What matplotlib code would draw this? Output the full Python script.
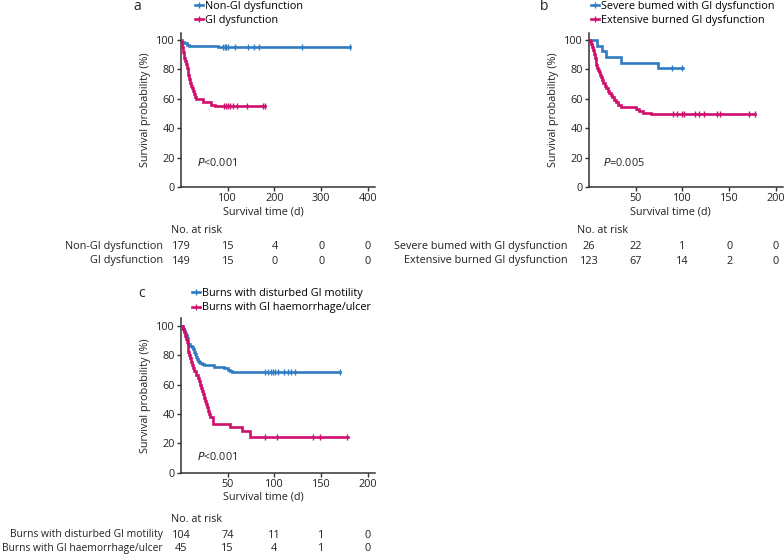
import matplotlib
matplotlib.use("Agg")
import matplotlib.pyplot as plt
from matplotlib.lines import Line2D
from matplotlib.transforms import blended_transform_factory

plt.rcParams["font.family"] = ["Open Sans", "DejaVu Sans"]
FS = 7.8
plt.rcParams["font.size"] = FS

BLUE = "#2f7cc3"
MAGENTA = "#cf0f6e"
INK = "#222222"

# ---- panel a: GI vs non-GI dysfunction ----
a_labels = ["Non-GI dysfunction", "GI dysfunction"]
a_blue_t = [0, 3, 7, 12, 18, 79]
a_blue_s = [100, 98.9, 97.7, 96.9, 95.9, 95.3]
a_blue_end = 362
a_blue_cens = [89, 94, 97, 100, 116, 144, 156, 167, 258, 362]
a_mag_t = [0, 1, 2, 3, 4, 5, 6, 7, 8, 10, 12, 14, 16, 18, 20, 22, 24, 26, 28, 30, 33, 48, 65, 72]
a_mag_s = [100, 98.5, 97, 95.5, 94, 92, 90, 88, 86, 83.5, 81, 78.5, 76, 73.5, 71, 69, 67, 65,
           63, 61.5, 59.8, 57.5, 56, 55.1]
a_mag_end = 179
a_mag_cens = [92, 96, 100, 105, 112, 120, 141, 176, 179]
a_risk_t = [0, 100, 200, 300, 400]
a_risk = [[179, 15, 4, 0, 0], [149, 15, 0, 0, 0]]
a_xticks = [100, 200, 300, 400]

# ---- panel b: severe vs extensive burns ----
b_labels = ["Severe bumed with GI dysfunction", "Extensive burned GI dysfunction"]
b_blue_t = [0, 8.5, 13.5, 18, 34.5, 73.5]
b_blue_s = [100, 96.15, 92.3, 88.46, 84.6, 80.77]
b_blue_end = 101
b_blue_cens = [89, 100]
b_mag_t = [0, 1, 2, 3, 4, 5, 6, 7, 8, 9, 10, 11, 12, 13, 14, 15.5, 17, 18.5, 20, 21.5, 23,
           25, 27, 29, 31, 34, 50, 53, 58, 66]
b_mag_s = [100, 99, 97.5, 95.5, 93, 90.5, 88, 85.5, 83, 81, 79.5, 78, 76.5, 74.5, 72.5, 70.5,
           69, 67, 65.5, 64, 62.5, 61, 59.5, 57.5, 56, 54.5, 53, 51.5, 50.5, 49.6]
b_mag_end = 178
b_mag_cens = [89.5, 94.5, 99.5, 101.5, 113, 118, 123, 137, 140, 171, 178]
b_risk_t = [0, 50, 100, 150, 200]
b_risk = [[26, 22, 1, 0, 0], [123, 67, 14, 2, 0]]
b_xticks = [50, 100, 150, 200]

# ---- panel c: motility vs haemorrhage/ulcer ----
c_labels = ["Burns with disturbed GI motility", "Burns with GI haemorrhage/ulcer"]
c_blue_t = [0, 1, 2, 3, 4, 5, 6, 7, 8, 10, 12, 13, 14, 15, 16, 17, 18, 19, 20, 22, 25, 30,
            35, 46, 50, 52, 55]
c_blue_s = [100, 99, 98, 96.5, 95, 93.5, 92, 90, 87.5, 86.5, 85.5, 84, 82, 80.5, 79, 77.5,
            76, 75, 74.5, 74, 73.5, 73, 72, 71, 70, 69, 68.5]
c_blue_end = 171
c_blue_cens = [90, 93, 96, 98.5, 101, 104, 110, 114.5, 118, 122.5, 170.5]
c_mag_t = [0, 2, 3, 4, 5, 6, 7, 7.5, 8, 9, 10, 10.5, 11.5, 12.5, 14, 16, 18, 19, 20, 21,
           22, 23.5, 25, 26, 27, 28, 29, 30, 31, 34, 52, 65, 74]
c_mag_s = [100, 97.8, 95.6, 93.3, 91.1, 88.9, 86.7, 84.4, 82.2, 80, 77.8, 75.6, 73.3, 71.1,
           68.9, 66.7, 64.4, 62.2, 60, 57.8, 55.6, 53.3, 51.1, 48.9, 46.7, 44.4, 42.2, 40,
           37.8, 33.3, 31, 28.7, 24.5]
c_mag_end = 179
c_mag_cens = [90, 102.5, 141.5, 149, 177.5]
c_risk_t = [0, 50, 100, 150, 200]
c_risk = [[104, 74, 11, 1, 0], [45, 15, 4, 1, 0]]
c_xticks = [50, 100, 150, 200]

W, H = 784, 556
fig = plt.figure(figsize=(W / 100, H / 100), dpi=100)


def px_axes(left, right, top, bottom):
    return fig.add_axes([left / W, 1 - bottom / H, (right - left) / W, (bottom - top) / H])


def km(ax, t, s, end, cens, color):
    tt = list(t) + [end]
    ss = list(s) + [s[-1]]
    ax.step(tt, ss, where="post", color=color, lw=1.9, solid_joinstyle="miter", zorder=3)
    # censor marks sit on the curve
    cs = []
    for c in cens:
        v = s[0]
        for ti, si in zip(t, s):
            if ti <= c:
                v = si
        cs.append(v)
    ax.plot(cens, cs, ls="none", marker="|", ms=4.5, mew=1.0, color=color, zorder=4)


def panel(box, letter, letter_xy, labels, curves, xmax, xticks, ptext, p_xy,
          xlab_x, leg_xy, risk_t, risk, risk_xy, row_fs=FS):
    left, right, top, bottom = box
    ax = px_axes(left, right, top, bottom)
    for (t, s, end, cens), col in zip(curves, [BLUE, MAGENTA]):
        km(ax, t, s, end, cens, col)
    ax.set_xlim(0, xmax)
    ax.set_ylim(0, 105)
    ax.set_yticks([0, 20, 40, 60, 80, 100])
    ax.set_xticks(xticks)
    for sp in ["top", "right"]:
        ax.spines[sp].set_visible(False)
    for sp in ["left", "bottom"]:
        ax.spines[sp].set_color("#333333")
        ax.spines[sp].set_linewidth(1.1)
    ax.tick_params(direction="out", length=3, width=1.0, color="#333333",
                   labelcolor=INK, labelsize=FS, pad=1.5)
    ax.set_ylabel("Survival probability (%)", color=INK, fontsize=FS, labelpad=4)
    ax.set_xlabel("Survival time (d)", color=INK, fontsize=FS, labelpad=0)
    ax.xaxis.set_label_coords((xlab_x - left) / (right - left), -(206 - 187) / (bottom - top))
    fig.text(letter_xy[0] / W, 1 - letter_xy[1] / H, letter, fontsize=10, color=INK,
             ha="left", va="center")
    fig.text(p_xy[0] / W, 1 - p_xy[1] / H, ptext, fontsize=FS, color=INK,
             ha="left", va="center")

    handles = [Line2D([], [], color=c, lw=1.9, marker="|", ms=4, mew=1.0) for c in [BLUE, MAGENTA]]
    ax.legend(handles, labels, loc="upper left", frameon=False, fontsize=FS,
              bbox_to_anchor=(leg_xy[0] / W, 1 - leg_xy[1] / H), bbox_transform=fig.transFigure,
              handlelength=0.7, handletextpad=0.25, labelspacing=0.32, borderpad=0,
              borderaxespad=0)

    tr = blended_transform_factory(ax.transData, fig.transFigure)
    hx, ly, r1, r2, lab_right = risk_xy
    fig.text(hx / W, 1 - ly / H, "No. at risk", color=INK, ha="left", va="center")
    for row, yy, lab in zip(risk, [r1, r2], labels):
        fig.text(lab_right / W, 1 - yy / H, lab, color=INK, ha="right", va="center",
                 fontsize=row_fs)
        for tv, n in zip(risk_t, row):
            ax.text(tv, 1 - yy / H, str(n), transform=tr, color=INK, ha="center", va="center",
                    clip_on=False)
    return ax


panel((181, 375, 32.6, 187), "a", (133, 6), a_labels,
      [(a_blue_t, a_blue_s, a_blue_end, a_blue_cens), (a_mag_t, a_mag_s, a_mag_end, a_mag_cens)],
      415, a_xticks, "$\\it{P}$<0.001", (197, 163), 263, (195, 0.5),
      a_risk_t, a_risk, (171, 230.7, 246.7, 261, 163))

panel((589, 783, 32.6, 187), "b", (540, 6), b_labels,
      [(b_blue_t, b_blue_s, b_blue_end, b_blue_cens), (b_mag_t, b_mag_s, b_mag_end, b_mag_cens)],
      207.5, b_xticks, "$\\it{P}$=0.005", (603, 163), 670, (591, 0.5),
      b_risk_t, b_risk, (576.7, 230.7, 246.7, 261, 568))

panel((181, 375, 318.4, 472.7), "c", (138, 293), c_labels,
      [(c_blue_t, c_blue_s, c_blue_end, c_blue_cens), (c_mag_t, c_mag_s, c_mag_end, c_mag_cens)],
      208, c_xticks, "$\\it{P}$<0.001", (197, 456.7), 263, (192, 288),
      c_risk_t, c_risk, (171, 519.3, 535, 548.3, 162.7), row_fs=7.35)

fig.savefig("out.png", dpi=100)
